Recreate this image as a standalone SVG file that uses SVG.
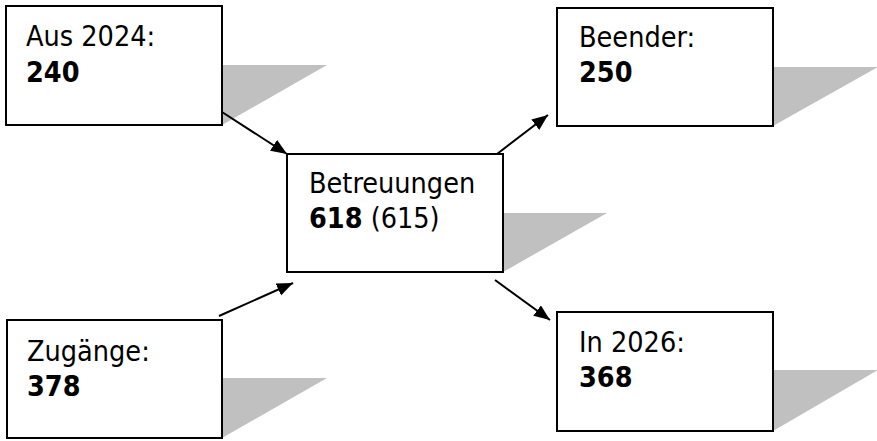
<svg xmlns="http://www.w3.org/2000/svg" width="877" height="441" viewBox="0 0 877 441">
  <style>
    .shadow { fill: #c0c0c0; stroke: none; }
    .box { fill: #ffffff; stroke: #000000; stroke-width: 2; }
    .label { font-family: "DejaVu Sans Condensed", "DejaVu Sans", sans-serif; font-stretch: condensed; font-size: 28.5px; fill: #000000; }
    .num { font-weight: bold; }
    .edge { stroke: #000000; stroke-width: 2; fill: none; marker-end: url(#arrow); }
  </style>
  <defs>
    <marker id="arrow" markerUnits="userSpaceOnUse" markerWidth="17" markerHeight="14" refX="16" refY="6.5" orient="auto">
      <path d="M0,0 L16,6.5 L0,13 z" fill="#000000"/>
    </marker>
  </defs>

  <rect width="877" height="441" fill="#ffffff"/>

  <g id="aus2024">
    <polygon class="shadow" points="6,125 222,125 327,65 111,65"/>
    <rect class="box" x="6" y="6" width="216" height="119"/>
    <text class="label" x="26" y="46">Aus 2024:</text>
    <text class="label num" x="26" y="82">240</text>
  </g>

  <g id="betreuungen">
    <polygon class="shadow" points="287,272 503,272 607,213 391,213"/>
    <rect class="box" x="287" y="154" width="216" height="118"/>
    <text class="label" x="309" y="193">Betreuungen</text>
    <text class="label" x="309" y="228"><tspan class="num">618</tspan> (615)</text>
  </g>

  <g id="zugaenge">
    <polygon class="shadow" points="7,438 222,438 327,378 112,378"/>
    <rect class="box" x="7" y="320" width="215" height="118"/>
    <text class="label" x="27" y="361">Zugänge:</text>
    <text class="label num" x="27" y="396">378</text>
  </g>

  <g id="beender">
    <polygon class="shadow" points="557,126 773,126 878,67 662,67"/>
    <rect class="box" x="557" y="8" width="216" height="118"/>
    <text class="label" x="579" y="47">Beender:</text>
    <text class="label num" x="579" y="82">250</text>
  </g>

  <g id="in2026">
    <polygon class="shadow" points="557,431 773,431 878,370 662,370"/>
    <rect class="box" x="557" y="312" width="216" height="119"/>
    <text class="label" x="579" y="352">In 2026:</text>
    <text class="label num" x="579" y="387">368</text>
  </g>

  <g id="connectors">
    <line class="edge" x1="222" y1="112" x2="287" y2="154"/>
    <line class="edge" x1="219" y1="316" x2="293" y2="283"/>
    <line class="edge" x1="497" y1="154" x2="548" y2="115"/>
    <line class="edge" x1="495" y1="280" x2="550" y2="320"/>
  </g>
</svg>
